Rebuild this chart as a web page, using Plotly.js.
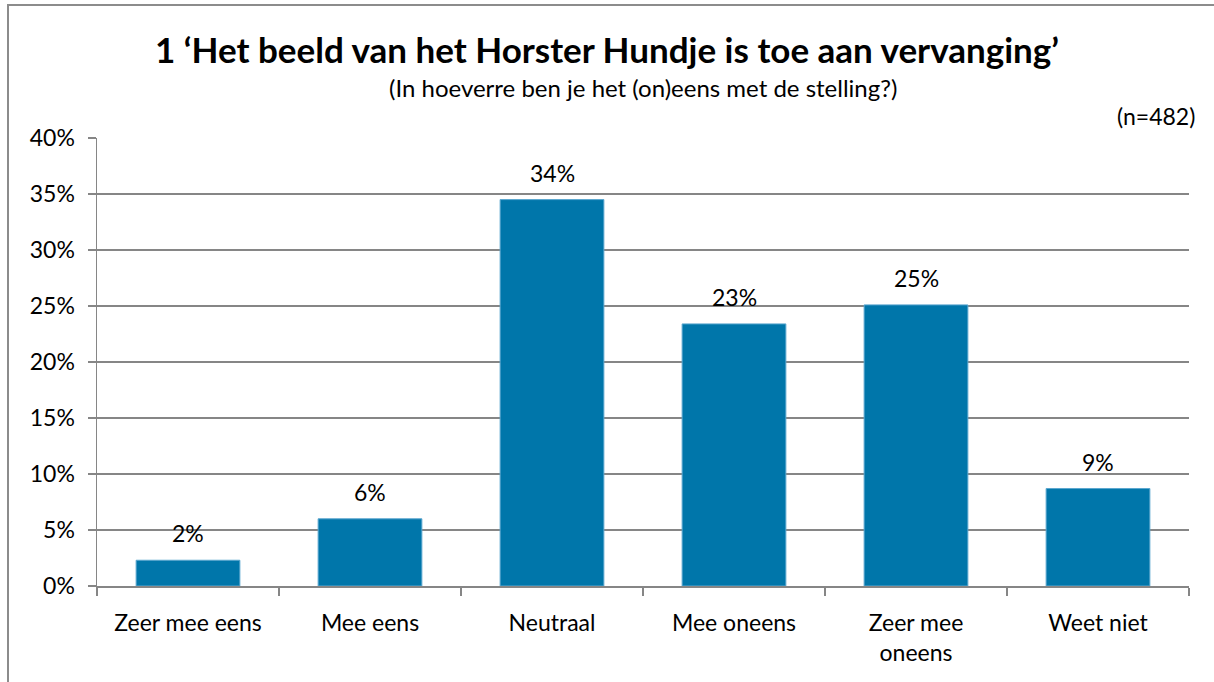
<!DOCTYPE html>
<html><head><meta charset="utf-8">
<script src="https://cdn.plot.ly/plotly-3.0.1.min.js"></script>
<style>
body{margin:0;padding:0;background:#fff;}
#wrap{position:relative;width:1214px;height:682px;overflow:hidden;}
#chart{width:1214px;height:682px;}
#frame{position:absolute;left:7px;top:4px;width:1230px;height:720px;border:2px solid #8c8c8c;pointer-events:none;box-sizing:border-box;}
</style></head>
<body>
<div id="wrap"><div id="chart"></div><div id="frame"></div></div>
<script>
const categories = ["Zeer mee eens", "Mee eens", "Neutraal", "Mee oneens", "Zeer mee<br>oneens", "Weet niet"];
const values = [2.3, 6.0, 34.5, 23.4, 25.1, 8.7];
const labels = ["2%", "6%", "34%", "23%", "25%", "9%"];
const yTicks = [0, 5, 10, 15, 20, 25, 30, 35, 40];
const yTickText = ["0%", "5%", "10%", "15%", "20%", "25%", "30%", "35%", "40%"];

const font = "Lato, 'Open Sans', sans-serif";

const trace = {
  type: "bar",
  x: categories,
  y: values,
  marker: {color: "#0076AA", line: {color: "#5aa6cf", width: 1}},
  hoverinfo: "none"
};

const annotations = categories.map((c, i) => ({
  x: c, y: values[i], xref: "x", yref: "y",
  text: labels[i], showarrow: false, yanchor: "bottom", yshift: 11,
  font: {family: font, size: 23, color: "#000"}
}));
annotations.push({
  xref: "paper", yref: "paper", x: 0.5, y: 1, yanchor: "bottom", yshift: 34,
  text: "(In hoeverre ben je het (on)eens met de stelling?)", showarrow: false,
  font: {family: font, size: 24, color: "#000"}
});
annotations.push({
  xref: "paper", yref: "paper", x: 1.0075, xanchor: "right", y: 1, yanchor: "bottom", yshift: 6,
  text: "(n=482)", showarrow: false,
  font: {family: font, size: 23, color: "#000"}
});

const layout = {
  width: 1214, height: 682,
  margin: {l: 97, r: 25, t: 138, b: 96},
  paper_bgcolor: "rgba(0,0,0,0)", plot_bgcolor: "#fff",
  bargap: 0.43,
  showlegend: false,
  title: {
    text: "<b>1 \u2018Het beeld van het Horster Hundje is toe aan vervanging\u2019</b>",
    x: 0.5, xanchor: "center", y: 0.925, yanchor: "middle",
    font: {family: font, size: 35, color: "#000"}
  },
  xaxis: {
    type: "category",
    showline: true, linecolor: "#868686", linewidth: 1.5,
    ticks: "outside", tickson: "boundaries", ticklen: 8, tickcolor: "#868686", tickwidth: 1.5,
    tickfont: {family: font, size: 23, color: "#000"},
    ticklabelstandoff: 16,
    showgrid: false, fixedrange: true
  },
  yaxis: {
    range: [0, 40],
    tickvals: yTicks, ticktext: yTickText,
    showline: true, linecolor: "#868686", linewidth: 1.5,
    ticks: "outside", ticklen: 8, tickcolor: "#868686", tickwidth: 1.5,
    showgrid: true, gridcolor: "#868686", gridwidth: 1.5,
    zeroline: false,
    tickfont: {family: font, size: 23, color: "#000"},
    ticklabelstandoff: 8,
    fixedrange: true
  },
  annotations: annotations
};

Plotly.newPlot("chart", [trace], layout, {displayModeBar: false, staticPlot: true});
</script>
</body></html>
